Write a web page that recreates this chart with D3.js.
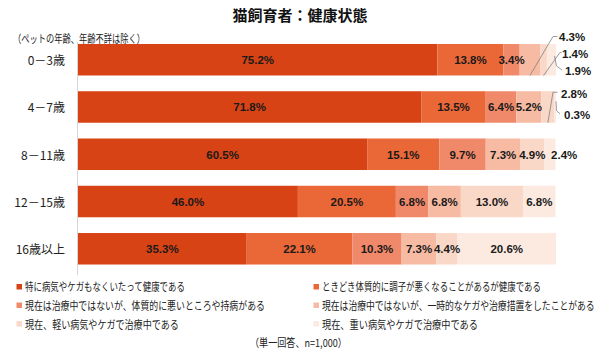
<!DOCTYPE html>
<html><head><meta charset="utf-8">
<script src="https://cdn.jsdelivr.net/npm/d3@7"></script>
<style>
body{margin:0;background:#fff;}
.jp{font-family:"Noto Sans CJK JP","Noto Sans",sans-serif;}
.val{font-family:"Liberation Sans",Arial,sans-serif;font-weight:bold;}
</style></head>
<body><svg id="c" width="600" height="355"></svg>
<script>
const categories = ["0－3歳","4－7歳","8－11歳","12－15歳","16歳以上"];
const seriesNames = [
  "特に病気やケガもなくいたって健康である",
  "ときどき体質的に調子が悪くなることがあるが健康である",
  "現在は治療中ではないが、体質的に悪いところや持病がある",
  "現在は治療中ではないが、一時的なケガや治療措置をしたことがある",
  "現在、軽い病気やケガで治療中である",
  "現在、重い病気やケガで治療中である"
];
const s1 = [75.2,71.8,60.5,46.0,35.3];
const s2 = [13.8,13.5,15.1,20.5,22.1];
const s3 = [3.4,6.4,9.7,6.8,10.3];
const s4 = [4.3,5.2,7.3,6.8,7.3];
const s5 = [1.4,2.8,4.9,13.0,4.4];
const s6 = [1.9,0.3,2.4,6.8,20.6];
const series = [s1,s2,s3,s4,s5,s6];
const colors = ["#D84315","#EA6737","#F0896A","#F6BBA2","#F9D8C8","#FCEAE1"];
const title = "猫飼育者：健康状態";
const subtitle = "（ペットの年齢、年齢不詳は除く）";
const footnote = "（単一回答、n=1,000）";
// labels drawn outside the bar with leader lines: [row, series]
const outside = [[0,3],[0,4],[0,5],[1,4],[1,5]];

const svg = d3.select("#c");
const x = d3.scaleLinear().domain([0,100]).range([78,556]);
const y = d3.scaleBand().domain(categories).range([36.1,272.4]).paddingInner(1/3).paddingOuter(1/6);
const bw = y.bandwidth();

// layout: text widths in the reference's (proportional) font
const legendWidths = [160,219,240,273,154,156];

// place a text at (tx,ty), horizontally scaled to width w (mimics the narrower original font)
function fitText(g, str, tx, ty, w, size){
  const t = g.append("text").attr("class","jp").attr("dominant-baseline","central")
    .attr("font-size",size).attr("fill","#222").text(str);
  const L = t.node().getComputedTextLength();
  t.attr("transform",`translate(${tx},${ty}) scale(${w/L},1)`);
  return t;
}

svg.append("text").attr("class","jp").attr("x",300).attr("y",14).attr("text-anchor","middle")
  .attr("dominant-baseline","central").attr("font-size",15).attr("font-weight","bold").attr("fill","#111").text(title);
fitText(svg, subtitle, 13, 38, 132, 11);

// axis line
svg.append("line").attr("x1",77.5).attr("x2",77.5).attr("y1",42).attr("y2",275).attr("stroke","#d6d6d6").attr("stroke-width",1);

// category labels
svg.append("g").selectAll("text").data(categories).join("text").attr("class","jp")
  .attr("x",65).attr("y",d=>y(d)+bw/2).attr("text-anchor","end").attr("dominant-baseline","central")
  .attr("font-size",12).attr("fill","#222").text(d=>d);

// stacked segments
const segs = [];
categories.forEach((c,i)=>{
  let acc = 0;
  series.forEach((s,j)=>{
    segs.push({cat:c,row:i,ser:j,v:s[i],x0:acc,x1:acc+s[i]});
    acc += s[i];
  });
});
const isOut = d => outside.some(o=>o[0]===d.row && o[1]===d.ser);
svg.append("g").selectAll("rect").data(segs).join("rect")
  .attr("x",d=>x(d.x0)).attr("width",d=>Math.max(0,x(d.x1)-x(d.x0)))
  .attr("y",d=>y(d.cat)).attr("height",bw).attr("fill",d=>colors[d.ser]);

// inside labels
svg.append("g").selectAll("text").data(segs.filter(d=>!isOut(d))).join("text").attr("class","val")
  .attr("x",d=>{const w=x(d.x1)-x(d.x0); return w<15 ? x(d.x0)+7 : (x(d.x0)+x(d.x1))/2;})
  .attr("text-anchor",d=>(x(d.x1)-x(d.x0))<15?"start":"middle")
  .attr("y",d=>y(d.cat)+bw/2+0.5).attr("dominant-baseline","central")
  .attr("font-size",11.5).attr("fill","#1a1a1a").text(d=>d.v.toFixed(1)+"%");

// outside labels with leader lines
const xe = x(100);
const geo = {
  "0-3": (cx,t)=>({pts:[[cx,t+bw],[xe-3,t-7.5],[xe+1.5,t-7.5]], lx:xe+3, ly:t-7}),
  "0-4": (cx,t)=>({pts:[[cx,t+bw],[xe+4,t+8.5],[xe+5.5,t+8.5]], lx:xe+6, ly:t+10}),
  "0-5": (cx,t)=>({pts:[[xe-1.5,t+12],[xe+0.5,t+22],[xe+6,t+26]], lx:xe+9, ly:t+27.5}),
  "1-4": (cx,t)=>({pts:[[cx,t+bw],[xe-3,t+1],[xe+1.5,t+1]], lx:xe+5, ly:t+2.5}),
  "1-5": (cx,t)=>({pts:[[xe,t+10],[xe+0.5,t+19.5],[xe+4,t+22.5]], lx:xe+8, ly:t+23.5})
};
const og = svg.append("g");
segs.filter(isOut).forEach(d=>{
  const g = geo[d.row+"-"+d.ser]((x(d.x0)+x(d.x1))/2, y(d.cat));
  og.append("path").attr("d",d3.line()(g.pts)).attr("fill","none").attr("stroke","#808080").attr("stroke-width",0.8);
  og.append("text").attr("class","val").attr("x",g.lx).attr("y",g.ly).attr("dominant-baseline","central")
    .attr("font-size",11.5).attr("fill","#1a1a1a").text(d.v.toFixed(1)+"%");
});

// legend
const lg = svg.append("g");
const colX = [16.5,313.5], rowY = [287,305.5,324];
seriesNames.forEach((n,i)=>{
  const cx = colX[i%2], cy = rowY[Math.floor(i/2)];
  lg.append("rect").attr("x",cx).attr("y",cy-3).attr("width",5.5).attr("height",5.5).attr("fill",colors[i]);
  fitText(lg, n, cx+8.5, cy, legendWidths[i], 11);
});
fitText(svg, footnote, 250, 342, 97, 11);
</script></body></html>
